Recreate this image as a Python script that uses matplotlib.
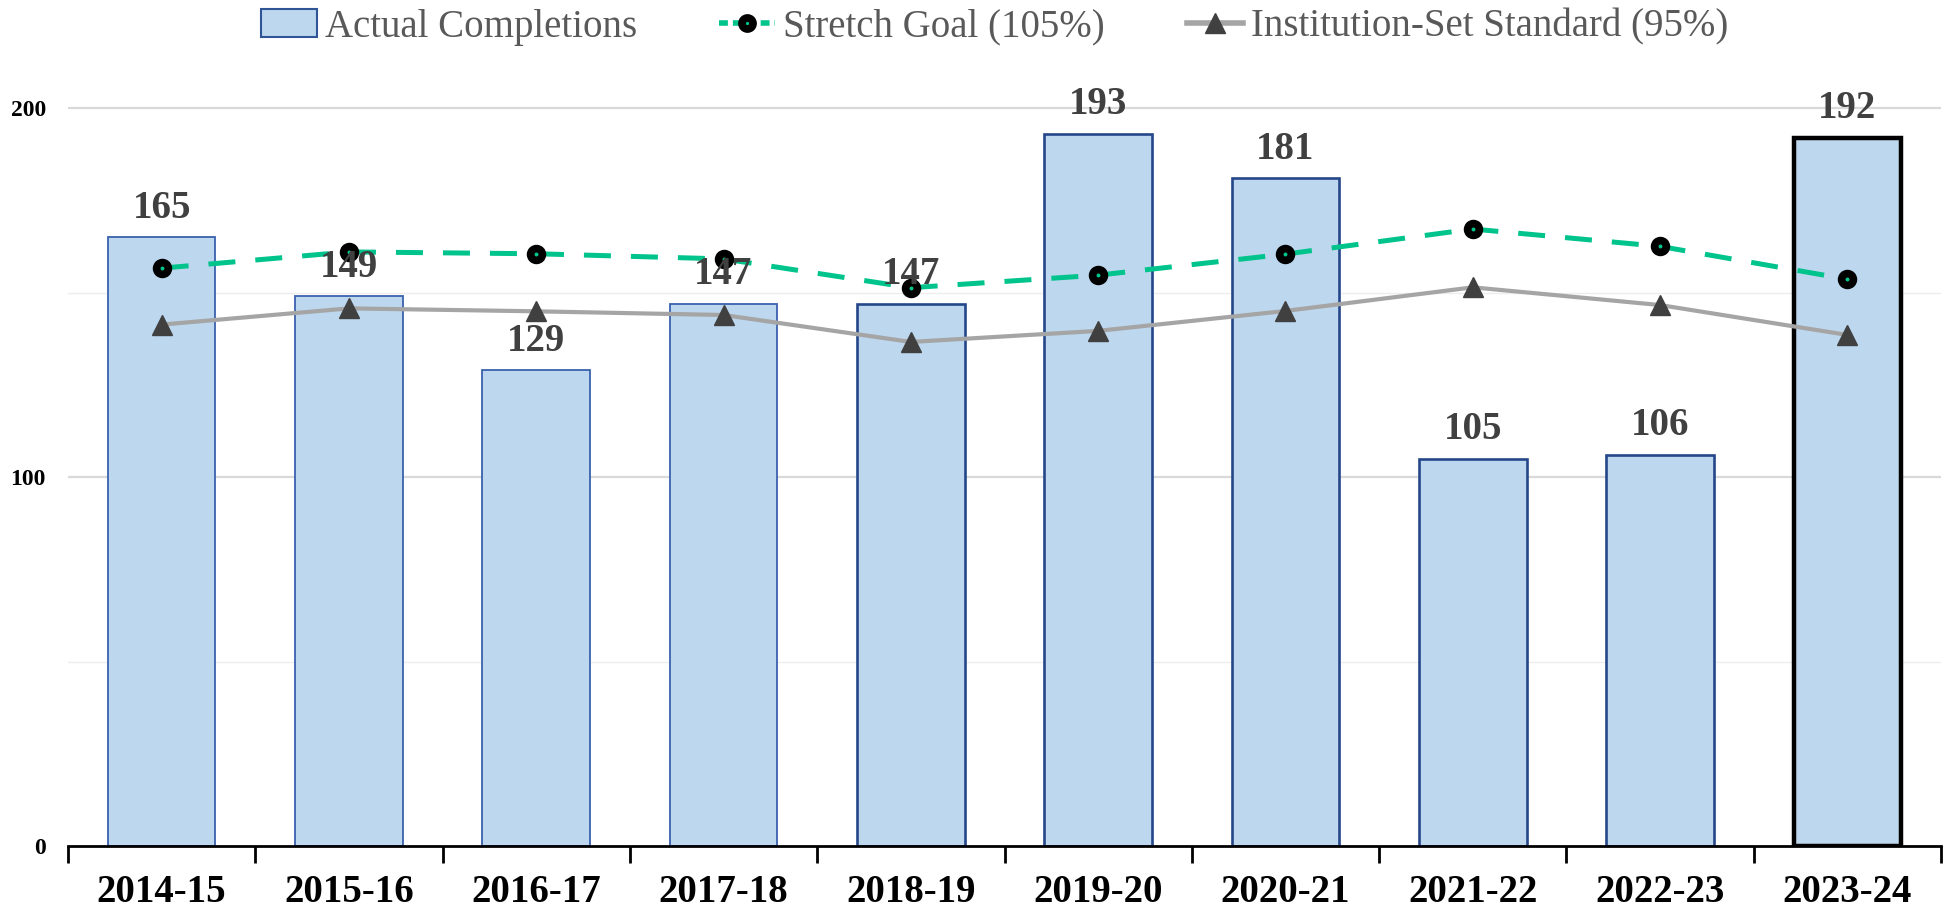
import numpy as np
import matplotlib
matplotlib.use("Agg")
import matplotlib.pyplot as plt
from matplotlib.lines import Line2D
from matplotlib.patches import Patch

plt.rcParams['font.family'] = ['Liberation Serif', 'DejaVu Serif']

# Data
years = ['2014-15', '2015-16', '2016-17', '2017-18', '2018-19',
         '2019-20', '2020-21', '2021-22', '2022-23', '2023-24']
completions = [165, 149, 129, 147, 147, 193, 181, 105, 106, 192]
stretch_goal = [156.6, 161.0, 160.5, 159.1, 151.3, 154.7, 160.4, 167.2, 162.5, 153.6]
standard = [141.3, 145.7, 144.9, 143.9, 136.6, 139.6, 145.0, 151.4, 146.6, 138.5]

bar_fill = '#BDD7EE'
edge_colors = ['#3A62AD'] * 4 + ['#24478A'] * 5 + ['#000000']
edge_widths = [1.3] * 4 + [1.9] * 5 + [3.2]
green = '#00C48C'
gray_line = '#A5A5A5'
marker_gray = '#404040'
label_color = '#404040'

W, H = 1954, 910
fig = plt.figure(figsize=(W / 100, H / 100), dpi=100)
ymax = 210
ax = fig.add_axes([68 / W, 1 - 846 / H, (1941 - 68) / W, (ymax * 3.69) / H])

x = np.arange(len(years))

# gridlines
for v in [50, 150]:
    ax.axhline(v, color='#EDEDED', lw=1.0, zorder=0)
for v in [100, 200]:
    ax.axhline(v, color='#D9D9D9', lw=1.6, zorder=0)

ax.bar(x, completions, width=0.575, color=bar_fill, edgecolor=edge_colors,
       linewidth=edge_widths, zorder=2)

ax.plot(x, stretch_goal, color=green, lw=3.6, ls=(0, (5.4, 4.0)), marker='o',
        markersize=8.5, markerfacecolor=green, markeredgecolor='black',
        markeredgewidth=5.5, zorder=3)
ax.plot(x, standard, color=gray_line, lw=3.0, marker='^', markersize=14,
        markerfacecolor=marker_gray, markeredgecolor=marker_gray, zorder=3)

for xi, v in zip(x, completions):
    ax.annotate(str(v), (xi, v), xytext=(0, 14), textcoords='offset points',
                ha='center', va='baseline', fontsize=28, fontweight='bold',
                color=label_color, zorder=5)

ax.set_xlim(-0.5, len(years) - 0.5)
ax.set_ylim(0, ymax)
ax.set_yticks([0, 100, 200])
ax.set_yticklabels(['0', '100', '200'], fontsize=17, fontweight='bold')
ax.tick_params(axis='y', length=0, pad=16)

ax.set_xticks(x)
ax.set_xticklabels(years, fontsize=28, fontweight='bold')
ax.tick_params(axis='x', which='major', length=0, pad=20)
ax.set_xticks(np.arange(-0.5, len(years), 1), minor=True)
ax.tick_params(axis='x', which='minor', length=12, width=2, color='black')

for s in ['top', 'right', 'left']:
    ax.spines[s].set_visible(False)
ax.spines['bottom'].set_linewidth(2)
ax.spines['bottom'].set_color('black')

handles = [
    Patch(facecolor=bar_fill, edgecolor='#2F5597', linewidth=1.5),
    Line2D([0], [0], color=green, lw=4, ls=(0, (1.6, 0.9)), marker='o', markersize=8,
           markerfacecolor=green, markeredgecolor='black', markeredgewidth=5.5),
    Line2D([0], [0], color=gray_line, lw=4, marker='^', markersize=14,
           markerfacecolor=marker_gray, markeredgecolor=marker_gray),
]
labels = ['Actual Completions', 'Stretch Goal (105%)', 'Institution-Set Standard (95%)']
fig.legend(handles, labels, loc='center', bbox_to_anchor=(0.509, 1 - 27 / H), ncol=3,
           frameon=False, fontsize=28, labelcolor='#595959', handlelength=1.45,
           handletextpad=0.2, columnspacing=2.1)

fig.savefig('out.png', dpi=100)
